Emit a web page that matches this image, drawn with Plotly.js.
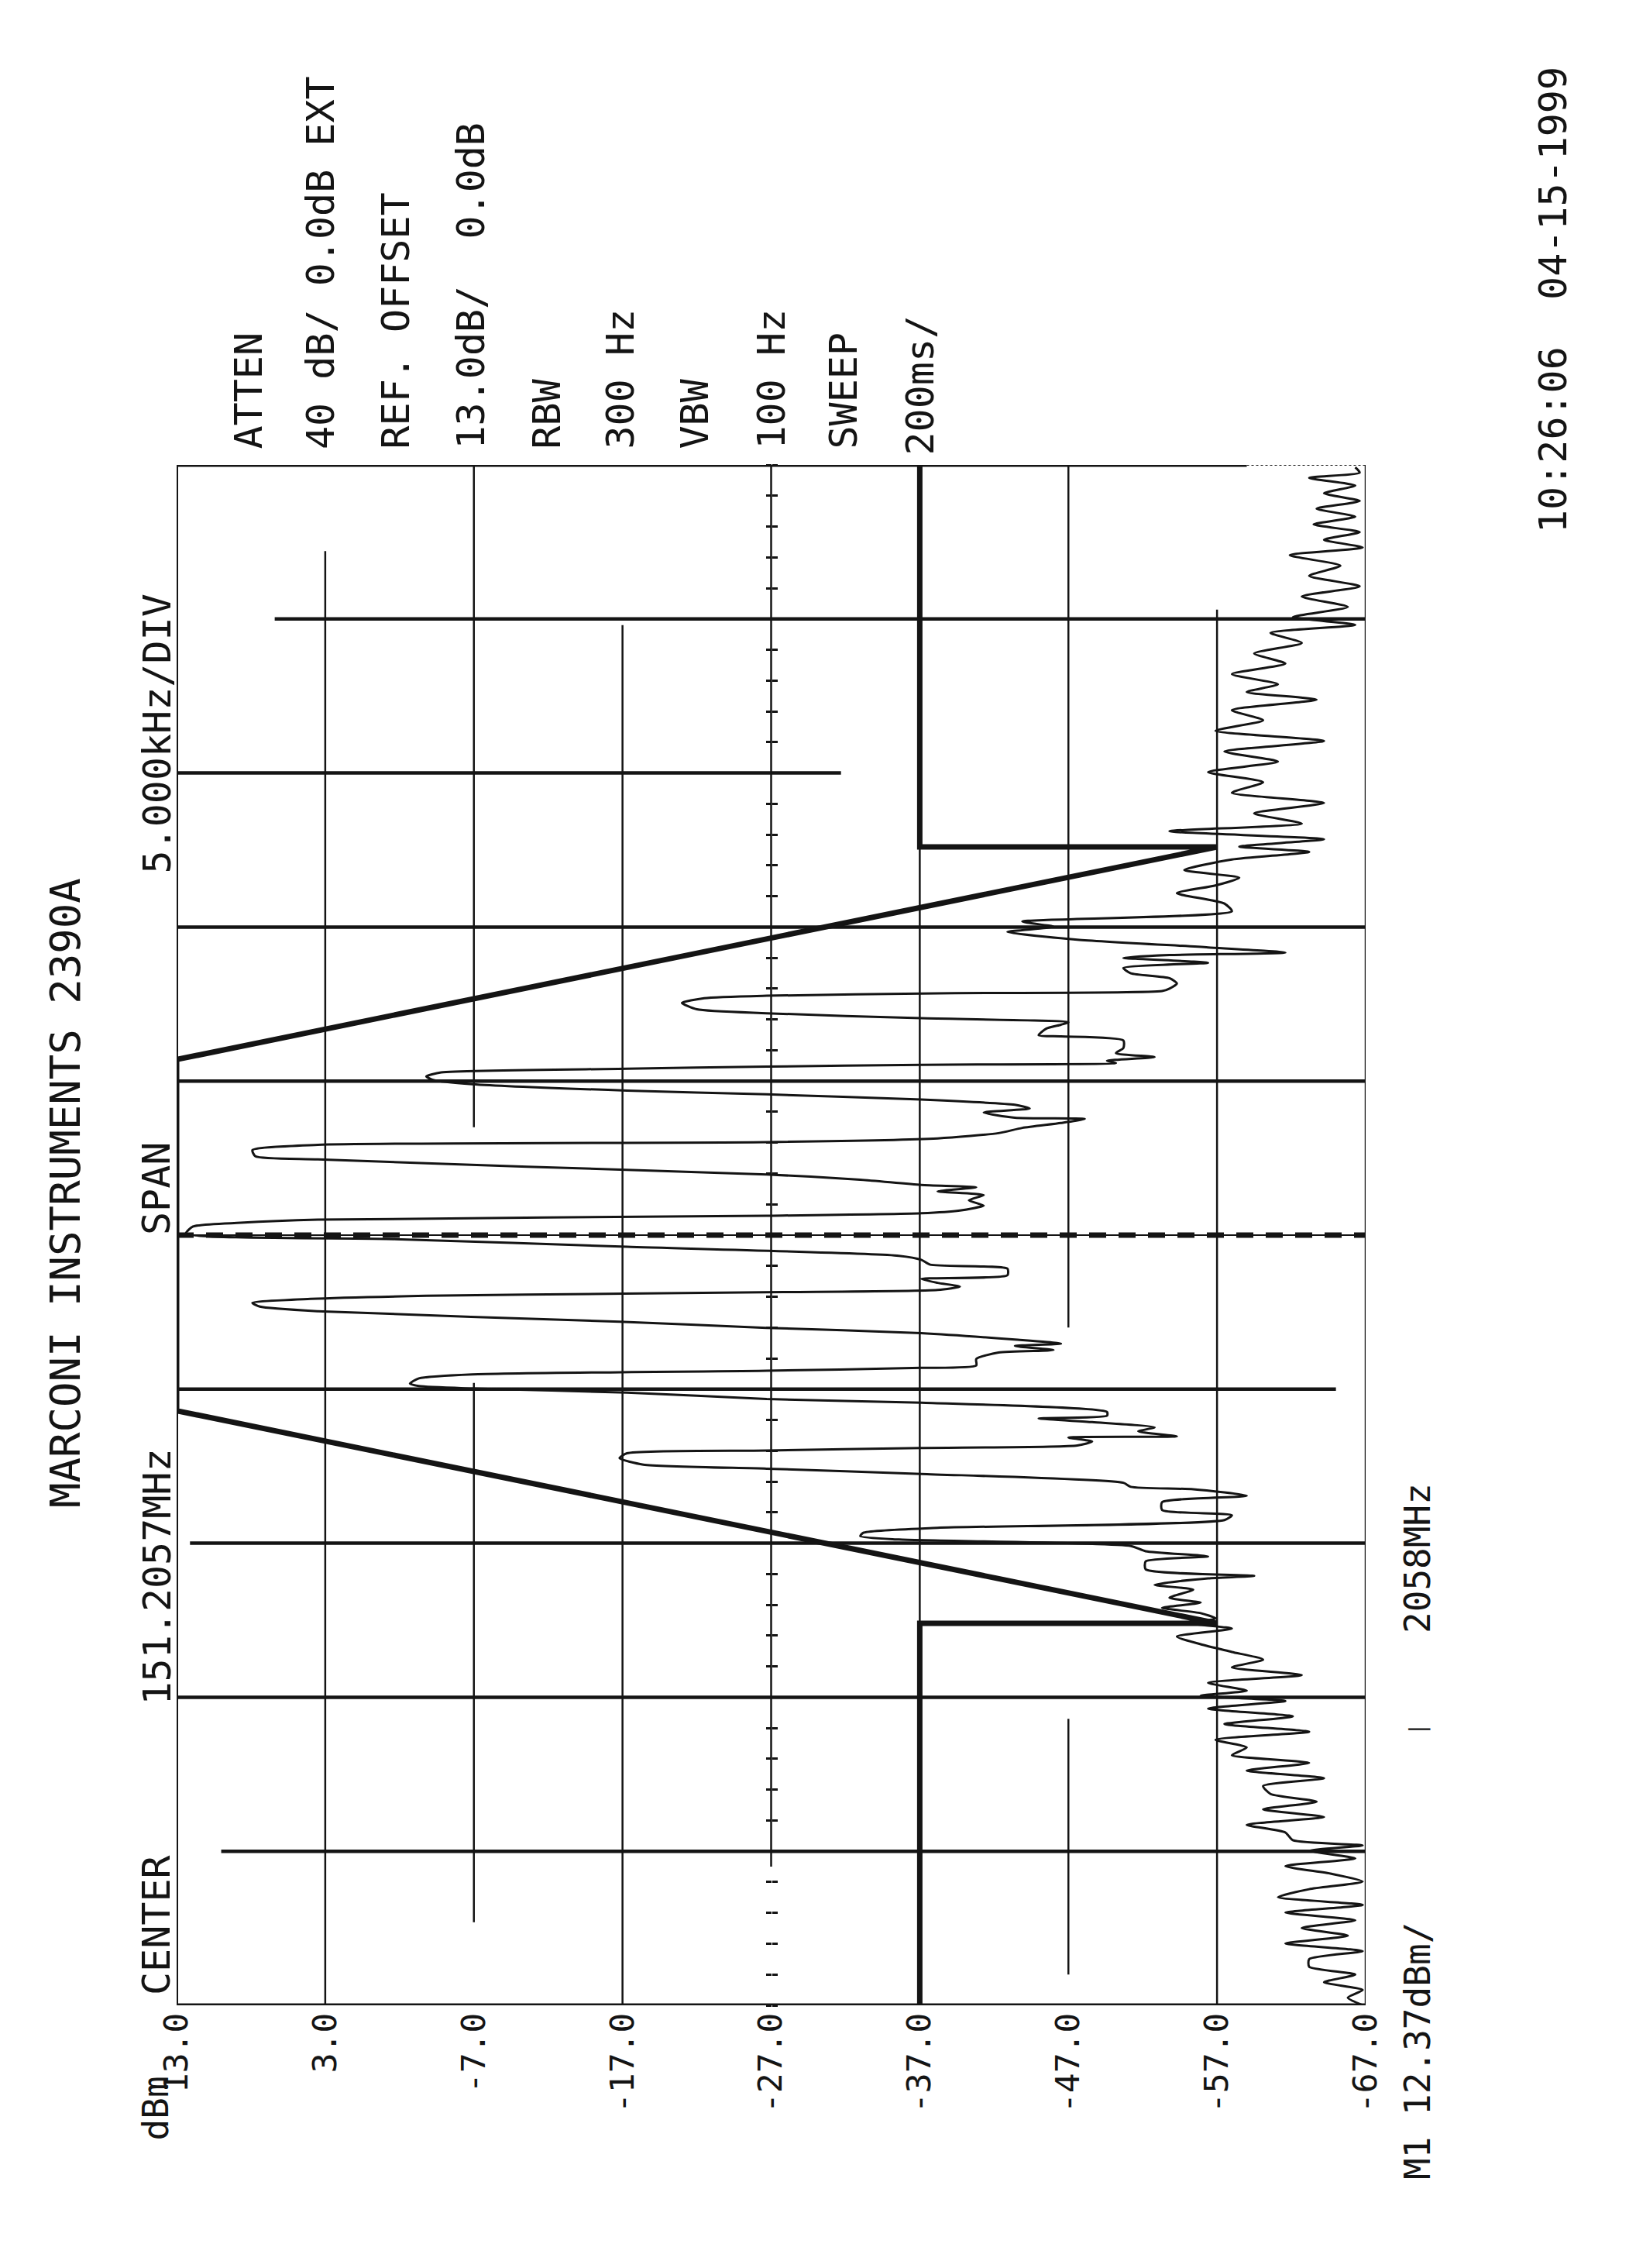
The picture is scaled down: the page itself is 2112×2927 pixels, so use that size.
<!DOCTYPE html>
<html>
<head>
<meta charset="utf-8">
<script src="https://cdn.plot.ly/plotly-3.0.1.min.js"></script>
<style>
  html, body { margin: 0; padding: 0; background: #ffffff; }
  #chart { width: 2112px; height: 2927px; }
</style>
</head>
<body>
<div id="chart"></div>
<script>
// ---- Data (frequency offset from 151.2057 MHz in kHz, level in dBm) ----
const freqKHz = [
  24.92,24.75,24.58,24.33,24.08,23.83,23.58,23.32,23.07,22.82,
  22.57,22.32,22.07,21.73,21.40,21.06,20.73,20.39,20.06,19.81,
  19.55,19.22,18.88,18.55,18.21,17.88,17.63,17.38,17.04,16.71,
  16.37,16.04,15.70,15.37,15.03,14.70,14.36,14.03,13.69,13.36,
  13.11,12.85,
  12.61,12.44,12.19,11.85,11.60,11.35,11.10,10.76,10.51,10.18,
  10.01,9.84,9.59,9.34,9.17,9.09,9.00,8.84,8.67,8.50,
  8.34,8.17,8.00,7.92,7.85,7.77,7.69,7.54,7.33,7.20,
  7.04,6.91,6.83,6.70,6.49,6.45,6.32,6.07,5.91,5.78,
  5.66,5.59,5.53,5.47,5.40,5.28,5.15,5.03,4.90,4.69,
  4.57,4.40,4.23,4.11,3.98,3.81,3.77,3.64,3.48,3.31,
  3.14,3.02,2.93,2.76,2.56,2.46,2.22,1.97,1.80,1.63,
  1.55,1.42,1.30,1.13,0.96,0.80,0.71,0.63,0.50,0.40,
  0.28,0.05,
  -0.13,-0.38,-0.67,-0.80,-0.96,-1.09,-1.30,-1.42,-1.55,-1.67,
  -1.78,-1.85,-1.90,-1.97,-2.07,-2.20,-2.32,-2.47,-2.81,-3.01,
  -3.18,-3.39,-3.52,-3.60,-3.73,-3.81,-4.02,-4.23,-4.31,-4.40,
  -4.52,-4.65,-4.82,-4.90,-4.98,-5.11,-5.32,-5.44,-5.74,-5.86,
  -5.95,-6.07,-6.24,-6.37,-6.53,-6.57,-6.70,-6.83,-6.91,-6.99,
  -7.08,-7.24,-7.45,-7.58,-7.75,-8.04,-8.17,-8.25,-8.46,-8.67,
  -8.92,-9.09,-9.25,-9.50,-9.66,-9.77,-9.88,-10.09,-10.26,-10.43,
  -10.59,-10.85,-11.06,-11.14,-11.35,-11.51,-11.77,-11.93,-12.10,-12.27,
  -12.44,-12.61,-12.77,-13.03,-13.28,-13.53,-13.78,-14.03,-14.28,-14.53,
  -14.79,-14.95,-15.12,-15.37,-15.62,-15.87,-16.12,-16.38,-16.63,-16.88,
  -17.13,-17.38,-17.63,-17.88,-18.14,-18.39,-18.64,-18.89,-19.14,-19.39,
  -19.64,-19.81,-19.98,-20.23,-20.48,-20.73,-20.98,-21.23,-21.49,-21.74,
  -21.99,-22.24,-22.49,-22.74,-22.99,-23.24,-23.50,-23.75,-24.00,-24.25,
  -24.50,-24.75,-25.00
];
const levelDbm = [
  -66.3,-66.6,-63.2,-66.3,-64.2,-66.6,-63.7,-66.3,-63.5,-66.6,
  -64.2,-66.8,-61.9,-65.3,-63.2,-66.6,-62.7,-65.8,-62.1,-66.3,
  -60.6,-62.7,-59.5,-61.6,-58.0,-61.1,-59.0,-63.7,-58.0,-60.1,
  -56.9,-64.2,-57.5,-61.1,-56.4,-60.1,-58.0,-64.2,-59.5,-62.7,
  -53.8,-64.2,
  -58.5,-63.2,-58.0,-54.8,-58.5,-56.9,-54.3,-57.5,-58.0,-43.9,
  -46.0,-42.9,-47.6,-56.4,-61.6,-53.8,-50.7,-56.4,-50.7,-51.2,
  -53.8,-54.3,-53.8,-53.3,-38.2,-26.7,-22.5,-21.0,-22.0,-26.7,
  -37.1,-47.0,-46.5,-45.5,-45.0,-46.5,-50.7,-50.7,-50.2,-52.8,
  -49.6,-50.2,-37.1,-26.7,-17.3,-4.8,-3.8,-4.3,-6.9,-17.3,
  -26.7,-37.1,-43.4,-44.4,-41.3,-43.4,-48.1,-46.5,-43.9,-42.3,
  -38.2,-26.7,3.5,7.9,7.7,3.5,-10.6,-26.7,-33.0,-37.1,
  -40.8,-38.2,-41.3,-40.3,-41.3,-39.7,-37.1,-26.7,3.5,8.7,
  11.9,12.37,
  -1.7,-17.3,-35.6,-37.1,-37.7,-42.9,-42.9,-37.1,-38.2,-39.7,
  -38.2,-27.8,-17.1,-3.8,4.0,7.9,7.4,3.5,-16.8,-26.7,
  -37.1,-43.4,-46.5,-43.4,-46.0,-42.3,-40.8,-40.8,-37.1,-26.7,
  -6.9,-3.3,-2.7,-3.3,-6.9,-17.3,-26.7,-37.1,-49.6,-49.6,
  -45.0,-48.6,-52.8,-51.7,-54.3,-47.0,-48.6,-47.6,-37.1,-26.7,
  -17.3,-16.8,-18.4,-26.7,-37.1,-50.7,-51.2,-55.4,-59.0,-53.3,
  -53.3,-58.0,-57.5,-38.2,-33.2,-33.0,-35.6,-51.2,-52.2,-56.4,
  -52.2,-52.2,-59.5,-56.4,-52.8,-55.4,-53.8,-55.9,-53.3,-55.9,
  -56.9,-55.4,-58.0,-54.3,-55.9,-58.0,-60.1,-58.0,-62.7,-56.4,
  -59.0,-55.9,-61.6,-56.4,-62.1,-57.5,-63.2,-56.9,-59.0,-58.0,
  -63.2,-59.0,-64.2,-60.1,-60.6,-63.7,-60.1,-64.2,-59.0,-61.6,
  -62.1,-66.8,-63.2,-66.3,-61.6,-64.7,-66.8,-63.2,-61.1,-66.8,
  -61.6,-66.3,-62.7,-65.8,-61.6,-66.8,-63.2,-63.2,-66.3,-64.2,
  -66.8,-65.8,-66.8
];

// limit mask (bold line)
const maskFreqKHz  = [25, 12.6, 12.6, 5.7, -5.7, -12.6, -12.6, -25];
const maskLevelDbm = [-37, -37, -57, 13, 13, -57, -37, -37];

// marker M1 line at centre frequency
const markerFreqKHz  = [0, 0];
const markerLevelDbm = [13, -67];

// level axis
const levelTicks = [13, 3, -7, -17, -27, -37, -47, -57, -67];
const levelTickLabels = ["13.0", "3.0", "-7.0", "-17.0", "-27.0", "-37.0", "-47.0", "-57.0", "-67.0"];

// text
const titleText = "MARCONI INSTRUMENTS 2390A";
const settingLabels = ["ATTEN", "40 dB/ 0.0dB EXT", "REF. OFFSET", "13.0dB/  0.0dB",
                       "RBW", "300 Hz", "VBW", "100 Hz", "SWEEP", "200ms/"];
const leftLabels = ["CENTER", "151.2057MHz", "SPAN", "5.000kHz/DIV"];
const dateText = "10:26:06  04-15-1999";
const unitText = "dBm";
const markerTexts = ["M1 12.37dBm/", "|", "2058MHz"];

// ---- layout helpers ----
const INK = "#141414";
const FONT = "DejaVu Sans Mono, Liberation Mono, monospace";
const L = 228, R = 1763, T = 600, B = 2588;
const px = v => (v - L) / (R - L);
const py = v => (B - v) / (B - T);

function vseg(x, y0, y1, w, dash) {
  return {type: "line", xref: "x", yref: "y", x0: x, x1: x, y0: y0, y1: y1, layer: "below",
          line: {color: INK, width: w, dash: dash || "solid"}};
}
function hseg(y, x0, x1, w, dash) {
  return {type: "line", xref: "x", yref: "y", x0: x0, x1: x1, y0: y, y1: y, layer: "below",
          line: {color: INK, width: w, dash: dash || "solid"}};
}

const shapes = [
  // frame
  vseg(13, -25, 25, 4),
  vseg(-67, -25, 25, 2.5),
  hseg(25, 13, -59, 5),
  hseg(25, -59, -67, 2, "dot"),
  hseg(-25, 13, -67, 5),
  // vertical grid (partial as plotted)
  vseg(3, -25, 22.2, 2.5),
  vseg(-7, 3.5, 25, 2.5),
  vseg(-7, -22.3, -4.8, 2.5),
  vseg(-17, -25, 19.8, 2.5),
  vseg(-27, -20.5, 25, 2.5),
  vseg(-37, -25, 25.4, 2.5),
  vseg(-47, -3.0, 25, 2.5),
  vseg(-47, -24.0, -15.7, 2.5),
  vseg(-57, -25, 20.3, 2.5),
  // horizontal grid (partial as plotted)
  hseg(20, 6.4, -67, 4.5),
  hseg(15, 13, -31.7, 4.5),
  hseg(10, 13, -67, 4.5),
  hseg(5, 13, -67, 4.5),
  hseg(0, 13, -67, 2),
  hseg(-5, 13, -65, 4.5),
  hseg(-10, 12.1, -67, 4.5),
  hseg(-15, 13, -67, 4.5),
  hseg(-20, 10, -67, 4.5)
];

const annotations = [];
function rot(text, x, y, size, yanchor) {
  annotations.push({text: text, xref: "paper", yref: "paper", x: x, y: y,
    xanchor: "center", yanchor: yanchor || "bottom", textangle: -90, showarrow: false,
    font: {family: FONT, size: size, color: INK}});
}
// settings column above the plot
const settingX = [320, 414, 510, 607, 705, 800, 896, 995, 1088, 1188];
settingLabels.forEach((t, i) => rot(t, px(settingX[i]), py(i === 9 ? 590 : 582), 50));
rot(dateText, px(2005), py(690), 50);
// left side
rot(titleText, px(84), py(1540), 54, "middle");
const leftBottoms = [2577, 2203, 1596, 1130];
leftLabels.forEach((t, i) => rot(t, px(202), py(leftBottoms[i]), 50));
// bottom
rot(unitText, px(200), py(2765), 46);
rot(markerTexts[0], px(1830), py(2815), 46);
rot(markerTexts[1], px(1830), py(2232), 28, "middle");
rot(markerTexts[2], px(1830), py(2110), 46);

const traces = [
  {type: "scatter", mode: "lines", x: levelDbm, y: freqKHz, name: "trace",
   line: {color: INK, width: 3, shape: "spline", smoothing: 0.6}, hoverinfo: "skip", showlegend: false},
  {type: "scatter", mode: "lines", x: maskLevelDbm, y: maskFreqKHz, name: "limit",
   line: {color: INK, width: 7}, hoverinfo: "skip", showlegend: false},
  {type: "scatter", mode: "lines", x: markerLevelDbm, y: markerFreqKHz, name: "M1",
   line: {color: INK, width: 7, dash: "22px,16px"}, hoverinfo: "skip", showlegend: false},
  {type: "scatter", mode: "lines", x: [null], y: [null], yaxis: "y2", hoverinfo: "skip", showlegend: false},
  {type: "scatter", mode: "lines", x: [null], y: [null], yaxis: "y3", hoverinfo: "skip", showlegend: false}
];

const centreAxis = side => ({
  overlaying: "y", anchor: "free", position: 0.5, side: side,
  range: [-25, 25], tick0: 0, dtick: 1, ticks: "outside", ticklen: 7, tickwidth: 3,
  tickcolor: INK, showticklabels: false, showgrid: false, zeroline: false, showline: false,
  fixedrange: true
});

const layout = {
  width: 2112, height: 2927,
  margin: {l: L, r: 2112 - R, t: T, b: 2927 - B, pad: 0},
  paper_bgcolor: "#ffffff", plot_bgcolor: "#ffffff",
  showlegend: false,
  xaxis: {range: [13, -67], tickmode: "array", tickvals: levelTicks, ticktext: levelTickLabels,
          tickangle: -90, ticks: "", showgrid: false, zeroline: false, showline: false,
          tickfont: {family: FONT, size: 43, color: INK}, automargin: false},
  yaxis: {range: [-25, 25], showticklabels: false, ticks: "", showgrid: false,
          zeroline: false, showline: false, automargin: false},
  yaxis2: centreAxis("left"),
  yaxis3: centreAxis("right"),
  shapes: shapes,
  annotations: annotations
};

Plotly.newPlot("chart", traces, layout, {displayModeBar: false, staticPlot: true});
</script>
</body>
</html>
